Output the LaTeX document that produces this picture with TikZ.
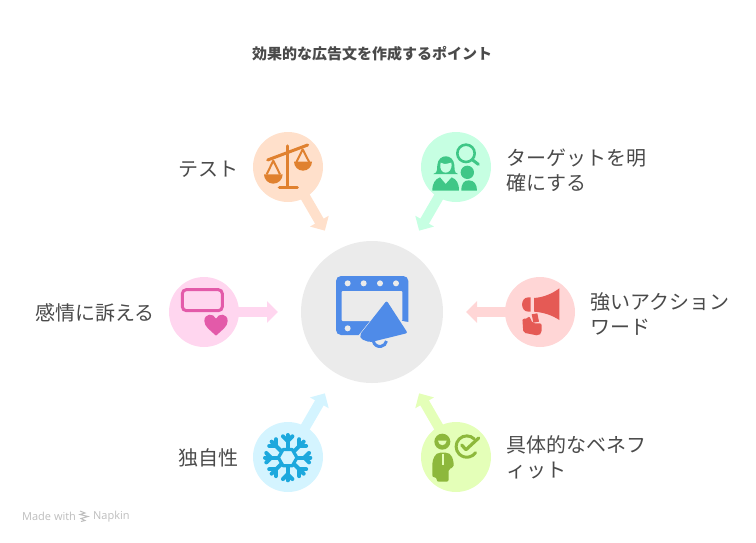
\documentclass[tikz,border=0pt]{standalone}
\usepackage{fontspec}
\setmainfont{Noto Sans CJK JP}
\newfontfamily\latinfont{Open Sans}
\usetikzlibrary{arrows.meta,backgrounds}
\definecolor{txt}{HTML}{4A4A4A}
\definecolor{cgray}{HTML}{EBEBEB}\definecolor{cblue}{HTML}{4F8BE8}
\definecolor{lorange}{HTML}{FFE0CB}\definecolor{dorange}{HTML}{E0812F}
\definecolor{lgreen}{HTML}{C6FFE2}\definecolor{dgreen}{HTML}{3FC787}
\definecolor{lpink}{HTML}{FFD6EF}\definecolor{dpink}{HTML}{E35AA9}
\definecolor{lred}{HTML}{FFD6D6}\definecolor{dred}{HTML}{E55A55}
\definecolor{lsky}{HTML}{D4F4FF}\definecolor{dsky}{HTML}{1CA8DD}
\definecolor{llime}{HTML}{E4FFB8}\definecolor{dlime}{HTML}{8DB83C}
\definecolor{foot}{HTML}{BDBDBD}
\tikzset{
  x=1pt,y=-1pt,
  disc/.style={circle,inner sep=0pt,outer sep=0pt,minimum size=70pt,fill=#1},
  hub/.style={circle,inner sep=0pt,outer sep=0pt,minimum size=142pt,fill=cgray},
  link/.style={line width=10pt,draw=#1,shorten >=23pt,shorten <=-2pt,
    -{Triangle[width=21pt,length=11pt,fill=#1]}},
  lbl/.style={anchor=west,align=left,inner sep=0pt,text=txt,font=\fontsize{20}{25}\selectfont},
  zm/.style 2 args={shift={(#1,#2)},x=0.33333pt,y=-0.33333pt},
}
\begin{document}
\begin{tikzpicture}
\useasboundingbox (0,0) rectangle (756,542);
\node[hub] (hubc) at (372,312) {};
\node[disc=lorange] (scalec) at (288,167) {};
\node[disc=lgreen] (targetc) at (456,167) {};
\node[disc=lpink] (emoc) at (204,312) {};
\node[disc=lred] (actc) at (540,312) {};
\node[disc=lsky] (snowc) at (288,457) {};
\node[disc=llime] (benc) at (456,457) {};
\begin{scope}[on background layer]
\draw[link=lorange] (scalec) -- (hubc);
\draw[link=lgreen] (targetc) -- (hubc);
\draw[link=lpink] (emoc) -- (hubc);
\draw[link=lred] (actc) -- (hubc);
\draw[link=lsky] (snowc) -- (hubc);
\draw[link=llime] (benc) -- (hubc);
\end{scope}
% title and labels
\node[inner sep=0pt,text=txt,font=\fontsize{15}{18}\selectfont\bfseries] (title) at (372,54) {効果的な広告文を作成するポイント};
\node[lbl] (l1) at (178,169) {テスト};
\node[lbl] (l2) at (506.5,170) {ターゲットを明\\確にする};
\node[lbl] (l3) at (35,313) {感情に訴える};
\node[lbl] (l4) at (590,313.5) {強いアクション\\ワード};
\node[lbl] (l5) at (178,458) {独自性};
\node[lbl] (l6) at (506.5,457.5) {具体的なベネフ\\ィット};
% footer
\node[anchor=west,inner sep=0pt,text=foot,font=\latinfont\fontsize{11}{12}\selectfont] (made) at (22,516.5) {Made with};
\node[anchor=west,inner sep=0pt,text=foot,font=\latinfont\fontsize{11}{12}\selectfont] (nap) at (93,516.5) {Napkin};
\draw[foot,line width=1pt] (80,511)--(85,513)--(80,514.5)--(88,516.5)--(81,518.5)--(85,520.5)--(81,521.5);
% scale icon
\begin{scope}[zm={240}{120}]
\draw[dorange,line width=3pt,line cap=round] (83,120)--(203,75);
\draw[dorange,line width=3.2pt,line cap=round] (143,78)--(143,200);
\draw[dorange,line width=3.2pt,line cap=round] (118,203)--(172,203);
\fill[dorange] (72,163) arc[start angle=180,end angle=0,radius=28] -- cycle;
\fill[dorange] (162,125) arc[start angle=180,end angle=0,radius=27] -- cycle;
\draw[dorange,line width=2pt,line join=round] (80,163)--(100,122)--(120,163);
\draw[dorange,line width=2pt,line join=round] (169,127)--(188,88)--(208,127);
\end{scope}
% target icon
\begin{scope}[zm={240}{120}]
\draw[dgreen,line width=2.6pt] (678,100) circle[radius=26];
\draw[dgreen,line width=3pt,line cap=round] (698,120)--(715,133);
\fill[dgreen] (580,162) .. controls (595,158) and (590,145) .. (592,135) .. controls (595,100) and (640,100) .. (643,135) .. controls (645,145) and (640,158) .. (654,162) -- cycle;
\fill[lgreen] (602,128) .. controls (615,135) and (625,130) .. (634,128) .. controls (638,150) and (625,158) .. (617,158) .. controls (608,158) and (597,150) .. (602,128) -- cycle;
\fill[dgreen] (577,212) .. controls (577,190) and (585,178) .. (600,172) -- (617,192) -- (635,172) .. controls (650,178) and (657,190) .. (657,212) -- cycle;
\fill[dgreen] (682,157) circle[radius=20];
\fill[dgreen] (664,212) .. controls (664,190) and (672,181) .. (686,181) .. controls (702,181) and (711,192) .. (711,212) -- cycle;
\end{scope}
% centre icon
\begin{scope}[zm={290}{235}]
\fill[cblue,rounded corners=5pt] (138,123) rectangle (355,300);
\fill[cgray,rounded corners=1pt] (155,168) rectangle (337,258);
\foreach \px in {173,221,270,318} \fill[cgray] (\px,145) circle[radius=9];
\fill[cgray] (173,280) circle[radius=9];
\fill[cgray] (205,302) -- (240,258) -- (337,258) -- (360,262) -- (360,305) -- cycle;
\draw[cgray,line width=3pt,line join=round,fill=cgray] (288,198) -- (354,294) -- (240,324) -- (210,310) -- cycle;
\draw[cblue,line width=3pt] (250,318) arc[start angle=170,end angle=10,radius=20];
\fill[cblue,rounded corners=2pt] (290,197) -- (353,294) -- (240,322) -- (213,312) -- (209,300) -- cycle;
\end{scope}
% emotion icon
\begin{scope}[zm={160}{270}]
\draw[dpink,line width=3pt,rounded corners=4pt] (67,59) rectangle (187,122);
\fill[dpink] (168,197) .. controls (150,180) and (133,170) .. (133,153) .. controls (133,130) and (160,128) .. (168,146) .. controls (176,128) and (203,130) .. (203,153) .. controls (203,170) and (186,180) .. (168,197) -- cycle;
\end{scope}
% action icon
\begin{scope}[zm={460}{270}]
\fill[dred] (222,84) .. controls (250,82) and (275,72) .. (298,55) -- (298,150) .. controls (275,135) and (250,127) .. (222,125) -- cycle;
\fill[dred] (212,82) -- (212,125) -- (205,125) .. controls (180,125) and (180,82) .. (205,82) -- cycle;
\fill[dred] (215,133) -- (232,130) -- (237,155) -- (220,158) -- cycle;
\fill[dred,rounded corners=2pt] (187,146) -- (204,146) -- (208,138) -- (218,160) -- (245,160) -- (245,188) -- (236,197) -- (190,188) -- cycle;
\end{scope}
% snowflake icon
\begin{scope}[zm={245}{390}]
\begin{scope}[shift={(128,203)}]
\draw[dsky,line width=3.2pt,line join=round] (0:28)--(60:28)--(120:28)--(180:28)--(240:28)--(300:28)--cycle;
\foreach \ang in {0,45,...,315}{
  \draw[dsky,line width=4pt,line cap=round] (\ang:30)--(\ang:68);
  \draw[dsky,line width=4pt,line cap=round] (\ang:50) -- ++(\ang+45:20);
  \draw[dsky,line width=4pt,line cap=round] (\ang:50) -- ++(\ang-45:20);
}
\end{scope}
\end{scope}
% benefit icon
\begin{scope}[zm={410}{390}]
\fill[dlime] (97,155) circle[radius=24];
\fill[llime] (84,152) -- (110,152) .. controls (108,170) and (86,170) .. (84,152) -- cycle;
\fill[dlime,rounded corners=2pt] (67,262) -- (67,215) -- (75,195) -- (85,188) -- (113,188) -- (124,195) -- (131,215) -- (131,233) -- (116,236) -- (116,275) -- (80,275) -- (80,262) -- cycle;
\draw[llime,line width=2.6pt] (99,193)--(99,224);
\draw[dlime,line width=3pt,line cap=round] (193,147) arc[start angle=-45,end angle=-325,radius=32];
\draw[dlime,line width=3.2pt,line cap=round,line join=round] (155,165)--(168,179)--(206,144);
\end{scope}
\end{tikzpicture}
\end{document}
